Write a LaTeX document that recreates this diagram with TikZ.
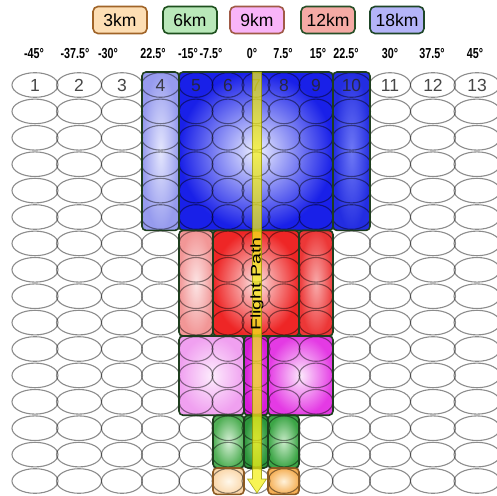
\documentclass[tikz,border=0pt]{standalone}
\usepackage{graphicx}
\usepackage{fontspec}
\setmainfont{Liberation Sans}
\newfontfamily\narrowfont[FakeStretch=0.74]{Liberation Sans}

% edge colours
\definecolor{boxedge}{RGB}{30,62,30}
\definecolor{orangeedge}{RGB}{140,90,35}
% 18 km footprints
\definecolor{bAin}{RGB}{228,230,253}\definecolor{bAout}{RGB}{150,155,238}
\definecolor{bBin}{RGB}{238,240,255}\definecolor{bBout}{RGB}{25,32,232}
\definecolor{bCin}{RGB}{110,120,245}\definecolor{bCout}{RGB}{35,45,225}
% 12 km footprints
\definecolor{rAin}{RGB}{252,228,228}\definecolor{rAout}{RGB}{242,150,150}
\definecolor{rBin}{RGB}{252,228,228}\definecolor{rBout}{RGB}{238,38,38}
\definecolor{rCin}{RGB}{248,170,170}\definecolor{rCout}{RGB}{236,55,55}
% 9 km footprints
\definecolor{mAin}{RGB}{253,236,253}\definecolor{mAout}{RGB}{240,160,240}
\definecolor{mBin}{RGB}{232,95,232}\definecolor{mBout}{RGB}{215,30,215}
\definecolor{mCin}{RGB}{252,232,252}\definecolor{mCout}{RGB}{228,58,228}
% 6 km footprints
\definecolor{gAin}{RGB}{215,240,215}\definecolor{gAout}{RGB}{80,175,85}
\definecolor{gBin}{RGB}{130,200,130}\definecolor{gBout}{RGB}{45,150,60}
\definecolor{gCin}{RGB}{200,235,200}\definecolor{gCout}{RGB}{60,165,70}
% 3 km footprints
\definecolor{oAin}{RGB}{255,248,235}\definecolor{oAout}{RGB}{250,215,170}
\definecolor{oBin}{RGB}{255,242,218}\definecolor{oBout}{RGB}{245,175,85}
% legend
\definecolor{legO}{RGB}{253,222,180}\definecolor{legOe}{RGB}{160,100,40}
\definecolor{legG}{RGB}{185,232,185}\definecolor{legGe}{RGB}{30,80,30}
\definecolor{legM}{RGB}{248,180,248}\definecolor{legMe}{RGB}{160,90,70}
\definecolor{legR}{RGB}{245,170,165}\definecolor{legRe}{RGB}{40,80,40}
\definecolor{legB}{RGB}{180,180,248}\definecolor{legBe}{RGB}{30,70,40}
% flight path
\definecolor{fpfill}{RGB}{245,240,20}
\definecolor{fpedge}{RGB}{150,150,0}

\begin{document}
\begin{tikzpicture}[x=1pt,y=-1pt,
  cell/.style={draw=black, draw opacity=0.45, line width=1.1pt},
  footbox/.style={draw=boxedge, line width=1.6pt, rounded corners=4pt},
  legendbox/.style={rectangle, rounded corners=5pt, line width=1.6pt,
    minimum width=54pt, minimum height=27pt, inner sep=0pt,
    font=\fontsize{17.5}{20}\selectfont},
  anglelabel/.style={inner sep=0pt, font=\narrowfont\bfseries\fontsize{14.5}{16}\selectfont},
  colnum/.style={inner sep=0pt, text=black!85, text opacity=0.85, font=\fontsize{17.5}{20}\selectfont},
  flightpath/.style={fill=fpfill, fill opacity=0.72, draw=fpedge, draw opacity=0.8, line width=0.6pt}
]
\useasboundingbox (0,0) rectangle (496,496);
\fill[white] (0,0) rectangle (496,496);

% shaded footprint regions: x1/y1/x2/y2/inner/outer
\foreach \xa/\ya/\xb/\yb/\ci/\co in {
  142/72/179/230.4/bAin/bAout,
  179/72/333/230.4/bBin/bBout,
  333/72/370/230.4/bCin/bCout,
  179/230.4/213/336/rAin/rAout,
  213/230.4/299/336/rBin/rBout,
  299/230.4/333/336/rCin/rCout,
  179/336/244/415.2/mAin/mAout,
  244/336/268/415.2/mBin/mBout,
  268/336/333/415.2/mCin/mCout,
  213/415.2/244/468/gAin/gAout,
  244/415.2/268/468/gBin/gBout,
  268/415.2/299/468/gCin/gCout,
  213/468/244/494.4/oAin/oAout,
  268/468/299/494.4/oBin/oBout}
  {\shade[inner color=\ci, outer color=\co, rounded corners=4pt] (\xa,\ya) rectangle (\xb,\yb);}

% pixel grid: column / centre / ellipse width
\foreach \c/\cx/\w in {1/35/46, 2/79/45, 3/122/41, 4/160.5/38, 5/196/34, 6/228/32,
    7/256/28, 8/284/32, 9/316/34, 10/351.5/38, 11/390/41, 12/433/45, 13/477/46}{
  \foreach \r in {1,...,16}{
    \pgfmathsetmacro\cy{85+26.4*(\r-1)}
    \draw[cell] (\cx,\cy) ellipse [x radius=\w/2, y radius=12.3];
  }
  \node[colnum] (num\c) at (\cx,85.5) {\c};
}

% footprint outlines
\foreach \xa/\ya/\xb/\yb/\ec in {
  142/72/179/230.4/boxedge, 179/72/333/230.4/boxedge, 333/72/370/230.4/boxedge,
  179/230.4/213/336/boxedge, 213/230.4/299/336/boxedge, 299/230.4/333/336/boxedge,
  179/336/244/415.2/boxedge, 244/336/268/415.2/boxedge, 268/336/333/415.2/boxedge,
  213/415.2/244/468/boxedge, 244/415.2/268/468/boxedge, 268/415.2/299/468/boxedge,
  213/468/244/494.4/orangeedge, 268/468/299/494.4/orangeedge}
  {\draw[footbox, draw=\ec] (\xa,\ya) rectangle (\xb,\yb);}

% flight path arrow
\coordinate (fpTop) at (257,72);
\coordinate (fpTip) at (257,493);
\path[flightpath] (fpTop) ++(-4.5,0) -- ++(0,407) -- ++(-5,0) -- (fpTip)
  -- ++(9.5,-14) -- ++(-5,0) -- ++(0,-407) -- cycle;
\node[rotate=90, inner sep=0pt, font=\fontsize{14}{16}\selectfont] (fplabel) at (257,284)
  {\scalebox{1.4}[1]{Flight Path}};

% legend
\node[legendbox, fill=legO, draw=legOe] (leg3)  at (120,20) {3km};
\node[legendbox, fill=legG, draw=legGe] (leg6)  at (190,20) {6km};
\node[legendbox, fill=legM, draw=legMe] (leg9)  at (257,20) {9km};
\node[legendbox, fill=legR, draw=legRe] (leg12) at (328,20) {12km};
\node[legendbox, fill=legB, draw=legBe] (leg18) at (397,20) {18km};

% scan angles
\foreach \i/\x/\t in {1/34/-45, 2/75/-37.5, 3/108/-30, 4/153/22.5, 5/188/-15, 6/211/-7.5,
    7/252/0, 8/283/7.5, 9/318/15, 10/346/22.5, 11/390/30, 12/432/37.5, 13/475/45}
  {\node[anglelabel] (ang\i) at (\x,54) {\t°};}
\end{tikzpicture}
\end{document}
